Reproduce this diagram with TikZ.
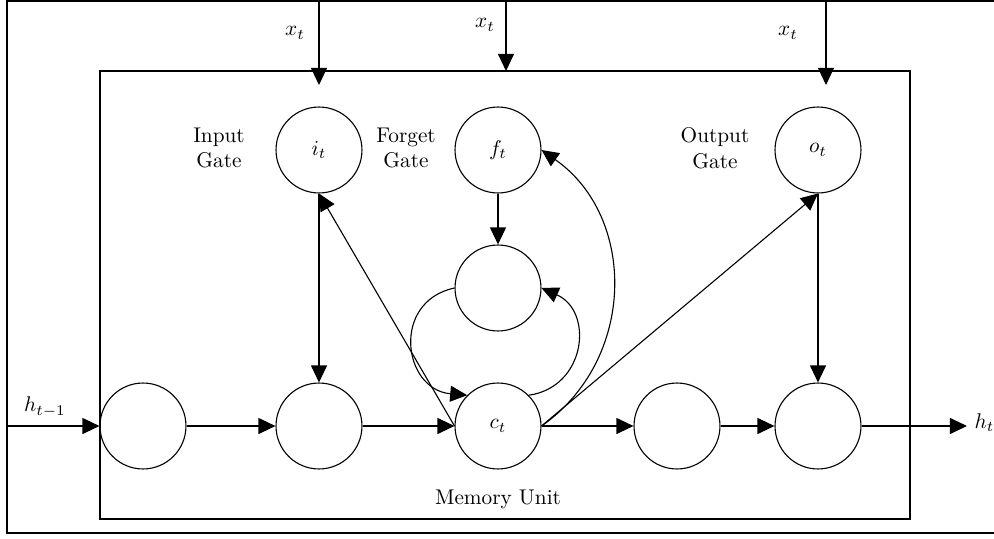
\documentclass[tikz,border=0pt]{standalone}
\usepackage{amsmath}
\usepackage{tikz}
\usetikzlibrary{arrows.meta}

\begin{document}
\begin{tikzpicture}[x=0.47pt,y=0.47pt,line width=0.52pt,
    unit/.style={draw,circle,minimum size=40.4pt,inner sep=0pt},
    flow/.style={-{Triangle[length=8pt,width=7.5pt]}},
    gatename/.style={align=center,inner sep=0pt}]
   \useasboundingbox (0,0) rectangle (994,538);
   \draw (994,537) -- (7,537) -- (7,5) -- (994,5);
   \draw (100,19) rectangle (910,467);
   % gates and units
   \node[unit] (it) at (319,388) {$i_t$};
   \node[unit] (ft) at (498,388) {$f_t$};
   \node[unit] (ot) at (818,388) {$o_t$};
   \node[unit] (mid) at (498,250) {};
   \node[unit] (u1) at (143,112) {};
   \node[unit] (u2) at (319,112) {};
   \node[unit] (ct) at (498,112) {$c_t$};
   \node[unit] (u4) at (677,112) {};
   \node[unit] (u5) at (818,112) {};
   \node[gatename] (inlab) at (219,390) {Input\\Gate};
   \node[gatename] (fglab) at (406,390) {Forget\\Gate};
   \node[gatename] (outlab) at (715,390) {Output\\Gate};
   \node (memlab) at (498,39) {Memory Unit};
   % inputs
   \coordinate (xa) at (319,537); \coordinate (xa2) at (319,453);
   \coordinate (xb) at (506,537); \coordinate (xb2) at (506,467);
   \coordinate (xc) at (826,537); \coordinate (xc2) at (826,453);
   \coordinate (hin) at (7,112); \coordinate (hout) at (967,112);
   \node (xalab) at (295,505) {$x_t$};
   \node (xblab) at (485,513) {$x_t$};
   \node (xclab) at (788,505) {$x_t$};
   \node (hinlab) at (45,131) {$h_{t-1}$};
   \node[anchor=west,inner sep=1pt] (houtlab) at (972,115) {$h_t$};
   \draw[flow] (xa) -- (xa2);
   \draw[flow] (xb) -- (xb2);
   \draw[flow] (xc) -- (xc2);
   % connections
   \draw[flow] (hin) -- (u1);
   \draw[flow] (u1) -- (u2);
   \draw[flow] (u2) -- (ct);
   \draw[flow] (ct) -- (u4);
   \draw[flow] (u4) -- (u5);
   \draw[flow] (u5) -- (hout);
   \draw[flow] (it) -- (u2);
   \draw[flow] (ft) -- (mid);
   \draw[flow] (ot) -- (u5);
   \draw[flow] (ct.west) -- (it.south);
   \draw[flow] (ct.east) -- (ot.south);
   \draw[flow] (ct.east) to[out=35,in=-35,looseness=1.08] (ft.east);
   \draw[flow] (mid.west) to[out=192,in=175,looseness=1.54] (ct.135);
   \draw[flow] (ct.45) to[out=8,in=-24,looseness=1.37] (mid.east);
\end{tikzpicture}
\end{document}
